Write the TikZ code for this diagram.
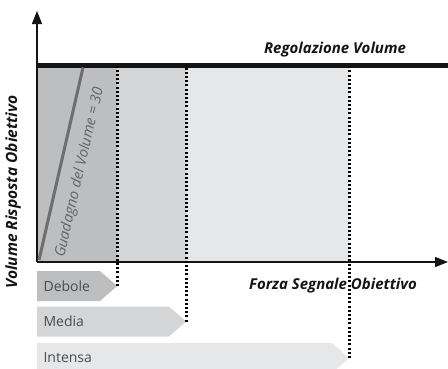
\documentclass[tikz,border=0pt]{standalone}
\usepackage{fontspec}
\setmainfont{Open Sans}
\usetikzlibrary{arrows.meta,positioning,shapes.symbols}
\definecolor{dusk}{RGB}{189,190,192}
\definecolor{mist}{RGB}{212,213,214}
\definecolor{haze}{RGB}{230,231,232}
\definecolor{slate}{RGB}{110,110,112}
\definecolor{ink}{RGB}{20,20,20}
\tikzset{
  >={Triangle[length=13pt,width=10pt]},
  axis/.style={->,line width=1.2pt,draw=ink},
  level/.style={draw=black,line width=2.2pt,dash pattern=on 2pt off 2.2pt},
  band/.style={signal,signal to=east,signal pointer angle=82,fill=#1,
    minimum height=30pt,inner sep=4pt,anchor=west,text=black!70,font=\fontsize{14}{16}\selectfont},
  band/.default=mist,
  title/.style={font=\fontsize{15}{17}\selectfont\bfseries\itshape,text=ink},
}
\begin{document}
\begin{tikzpicture}[x=1pt,y=1pt]
    \useasboundingbox (0,0) rectangle (448,368);
    % shaded zones
    \fill[dusk] (37,106) rectangle (117,303);
    \fill[mist] (117,106) rectangle (186,303);
    \fill[haze] (186,106) rectangle (349,303);
    % axes
    \coordinate (o) at (37,106);
    \coordinate (ytop) at (37,357);
    \coordinate (xend) at (448,106);
    \draw[axis] (o) -- (ytop);
    \draw[axis] (o) -- (xend);
    \draw[ink,line width=5pt] (37,303) coordinate (bl) -- (448,303) coordinate (br);
    % gain line
    \coordinate (g0) at (39,108);
    \coordinate (g1) at (83,300.5);
    \draw[slate,line width=3pt] (g0) -- (g1);
    \node[rotate=77,anchor=base west,font=\fontsize{14.5}{16}\selectfont\itshape,text=slate!90!black,inner sep=0pt] (gain) at (64,110) {Guadagno del Volume = 30};
    % labels
    \node[title] (reg) at (335,318) {Regolazione Volume};
    \node[title] (forza) at (333,82) {Forza Segnale Obiettivo};
    \node[title,font=\fontsize{15.5}{17}\selectfont\bfseries\itshape,rotate=90] (risp) at (13,176) {Volume Risposta Obiettivo};
    % signal strength bands
    \foreach \n/\y/\w/\t/\c in {deb/82/80/Debole/dusk,med/46.5/149/Media/mist,int/10/312/Intensa/haze}{
      \node[band=\c,minimum width=\w pt,text width=\w pt-30pt,align=left] (\n) at (37,\y) {\t};
    }
    \draw[level] (deb.east) -- (deb.east |- bl);
    \draw[level] (med.east) -- (med.east |- bl);
    \draw[level] (int.east) -- (int.east |- bl);
\end{tikzpicture}
\end{document}
